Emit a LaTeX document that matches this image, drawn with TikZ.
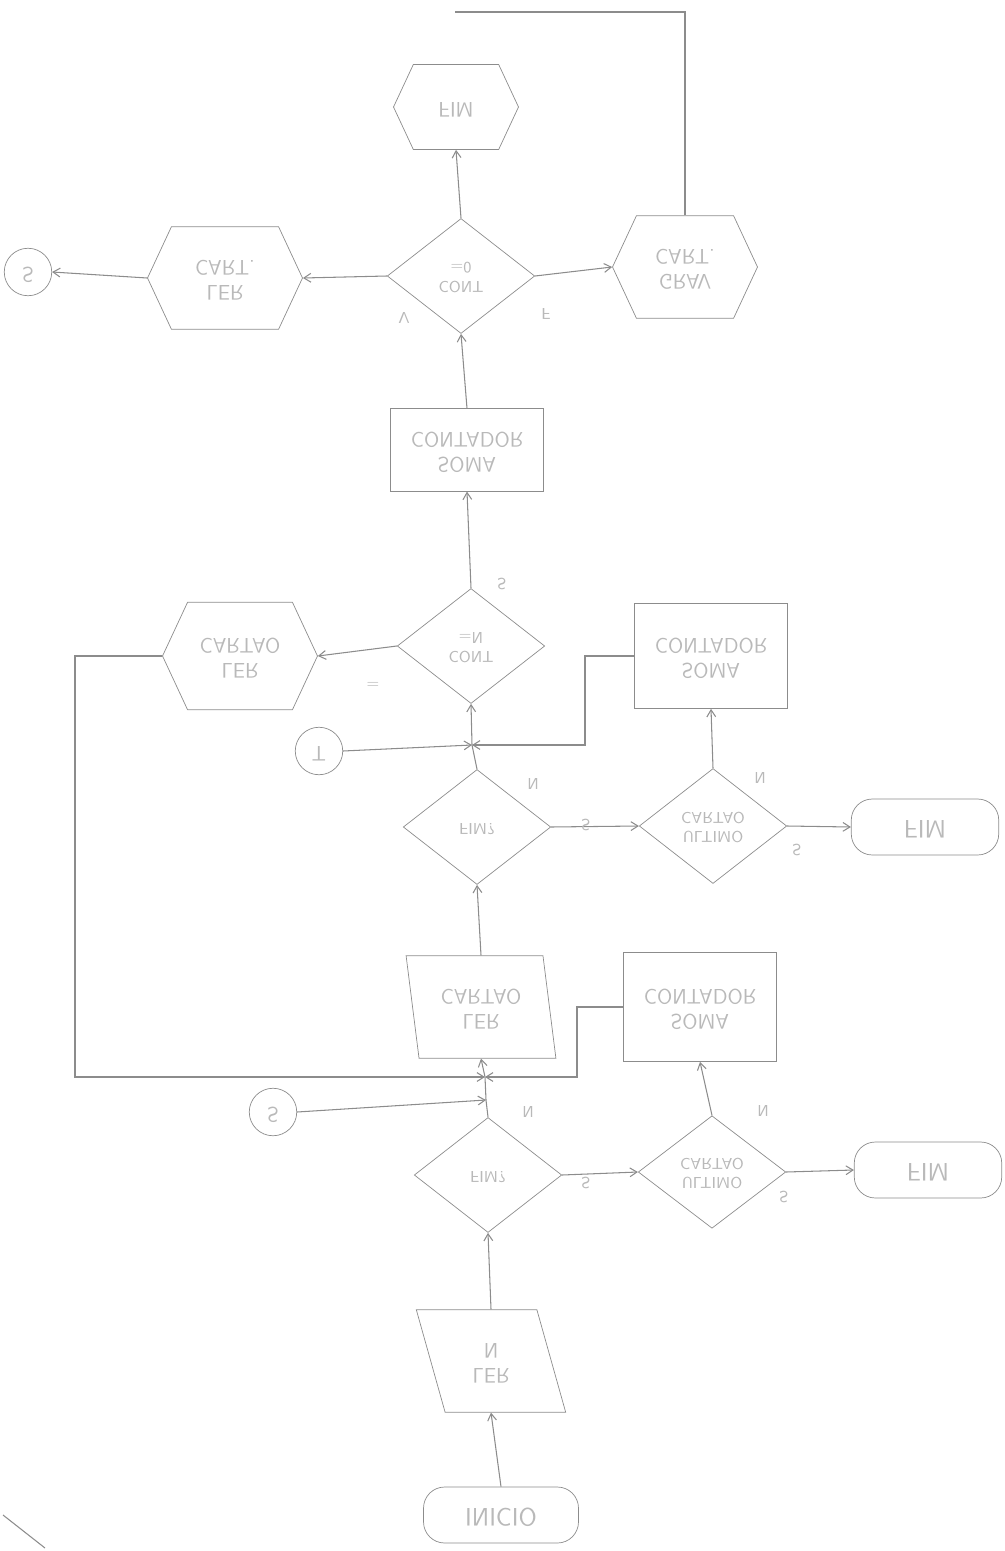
\documentclass[tikz,border=0pt]{standalone}
\usetikzlibrary{shapes.geometric,shapes.symbols,arrows.meta}
\definecolor{Ink}{RGB}{140,140,140}
\definecolor{Faded}{RGB}{185,185,185}

% text of the scan is printed upside down (mirrored top to bottom)
\newcommand{\flipped}[1]{\scalebox{1}[-1]{\begin{tabular}{@{}c@{}}#1\end{tabular}}}

\tikzset{
  hexa/.style={draw=Ink, signal, signal to=west and east, signal pointer angle=130,
    minimum width=3.1cm, minimum height=2.05cm, text=Faded, font=\sffamily\large},
  dia/.style={draw=Ink, diamond, minimum width=2.95cm, minimum height=2.3cm, inner sep=0pt,
    text=Faded, font=\sffamily\small},
  box/.style={draw=Ink, rectangle, minimum width=3.05cm, minimum height=2.1cm,
    text=Faded, font=\sffamily\large},
  para/.style={draw=Ink, trapezium, trapezium stretches=true, trapezium left angle=100,
    trapezium right angle=80, minimum width=3.0cm, minimum height=2.05cm,
    text=Faded, font=\sffamily\large},
  term/.style={draw=Ink, rectangle, rounded corners=12pt, minimum width=2.95cm,
    minimum height=1.12cm, text=Faded, font=\sffamily\Large},
  conn/.style={draw=Ink, circle, minimum size=0.95cm, text=Faded, font=\sffamily\large},
  tag/.style={text=Faded, font=\sffamily\small},
  flow/.style={draw=Ink, line width=0.6pt, -{Straight Barb[length=4pt,width=5pt]}},
  plain/.style={draw=Ink, line width=0.6pt},
}

\begin{document}
\begin{tikzpicture}[x=0.02cm, y=-0.02cm]
\useasboundingbox (0,0) rectangle (1004,1551);

% top part
\node[hexa, minimum width=2.5cm, minimum height=1.7cm] (top) at (456,107) {\flipped{FIM}};
\node[dia] (d1) at (461,276) {\flipped{CONT\\=0}};
\node[hexa] (h1l) at (225,278) {\flipped{LER\\CART.}};
\node[hexa, minimum width=2.9cm] (h1r) at (685,267) {\flipped{GRAV\\CART.}};
\node[conn] (c1) at (28,272) {\flipped{S}};
\node[box, minimum height=1.65cm] (r1) at (467,450) {\flipped{SOMA\\CONTADOR}};

% middle part
\node[dia] (d2) at (471,646) {\flipped{CONT\\=N}};
\node[hexa, minimum height=2.15cm] (h2) at (240,656) {\flipped{LER\\CARTAO}};
\node[box] (r2) at (711,656) {\flipped{SOMA\\CONTADOR}};
\node[conn] (c2) at (319,751) {\flipped{T}};
\coordinate (j1) at (472,745);
\coordinate (k1) at (585,745);
\node[dia] (d3) at (477,827) {\flipped{FIM?}};
\node[dia] (d4) at (713,826) {\flipped{ULTIMO\\CARTAO}};
\node[term] (e1) at (925,827) {\flipped{FIM}};

% lower part
\node[para, trapezium left angle=99, trapezium right angle=81] (p3) at (481,1007) {\flipped{LER\\CARTAO}};
\node[box, minimum height=2.18cm] (r4) at (700,1007) {\flipped{SOMA\\CONTADOR}};
\node[conn] (c3) at (273,1112) {\flipped{S}};
\coordinate (j2) at (485,1077);
\coordinate (j3) at (486,1100);
\coordinate (k2) at (577,1077);
\coordinate (lc) at (75,1077);
\node[dia] (d5) at (488,1175) {\flipped{FIM?}};
\node[dia, minimum height=2.25cm] (d6) at (712,1172) {\flipped{ULTIMO\\CARTAO}};
\node[term] (e2) at (928,1170) {\flipped{FIM}};
\node[para, trapezium left angle=104, trapezium right angle=76] (p5) at (491,1361) {\flipped{LER\\N}};
\node[term, minimum width=3.1cm] (st) at (501,1515) {\flipped{INICIO}};
\coordinate (topend) at (455,12);

% spine, flowing upwards
\draw[flow] (d1.north) -- (top.south);
\draw[flow] (r1.north) -- (d1.south);
\draw[flow] (d2.north) -- (r1.south);
\draw[flow] (j1) -- (d2.south);
\draw[plain] (d3.north) -- (j1);
\draw[flow] (p3.north) -- (d3.south);
\draw[flow] (j2) -- (p3.south);
\draw[plain] (d5.north) -- (j3) -- (j2);
\draw[flow] (p5.north) -- (d5.south);
\draw[flow] (st.north) -- (p5.south);

% side branches
\draw[flow] (d1.west) -- (h1l.east);
\draw[flow] (h1l.west) -- (c1.east);
\draw[flow] (d1.east) -- (h1r.west);
\draw[plain] (h1r.north) -- (h1r.north |- topend) -- (topend);
\draw[flow] (d2.west) -- (h2.east);
\draw[flow] (h2.west) -| (lc) -- (j2);
\draw[flow] (c2.east) -- (j1);
\draw[flow] (r2.west) -| (k1) -- (j1);
\draw[flow] (d3.east) -- (d4.west);
\draw[flow] (d4.east) -- (e1.west);
\draw[flow] (d4.north) -- (r2.south);
\draw[flow] (c3.east) -- (j3);
\draw[flow] (r4.west) -| (k2) -- (j2);
\draw[flow] (d5.east) -- (d6.west);
\draw[flow] (d6.east) -- (e2.west);
\draw[flow] (d6.north) -- (r4.south);

% branch tags
\node[tag] (t1) at (404,316) {\flipped{V}};
\node[tag] (t2) at (546,312) {\flipped{F}};
\node[tag] (t3) at (502,582) {\flipped{S}};
\node[tag] (t4) at (373,684) {\flipped{=}};
\node[tag] (t5) at (533,782) {\flipped{N}};
\node[tag] (t6) at (586,823) {\flipped{S}};
\node[tag] (t7) at (760,776) {\flipped{N}};
\node[tag] (t8) at (797,848) {\flipped{S}};
\node[tag] (t9) at (528,1110) {\flipped{N}};
\node[tag] (t10) at (586,1181) {\flipped{S}};
\node[tag] (t11) at (763,1109) {\flipped{N}};
\node[tag] (t12) at (784,1195) {\flipped{S}};

% page edge
\draw[plain] (3,1515) -- (45,1548);
\end{tikzpicture}
\end{document}
